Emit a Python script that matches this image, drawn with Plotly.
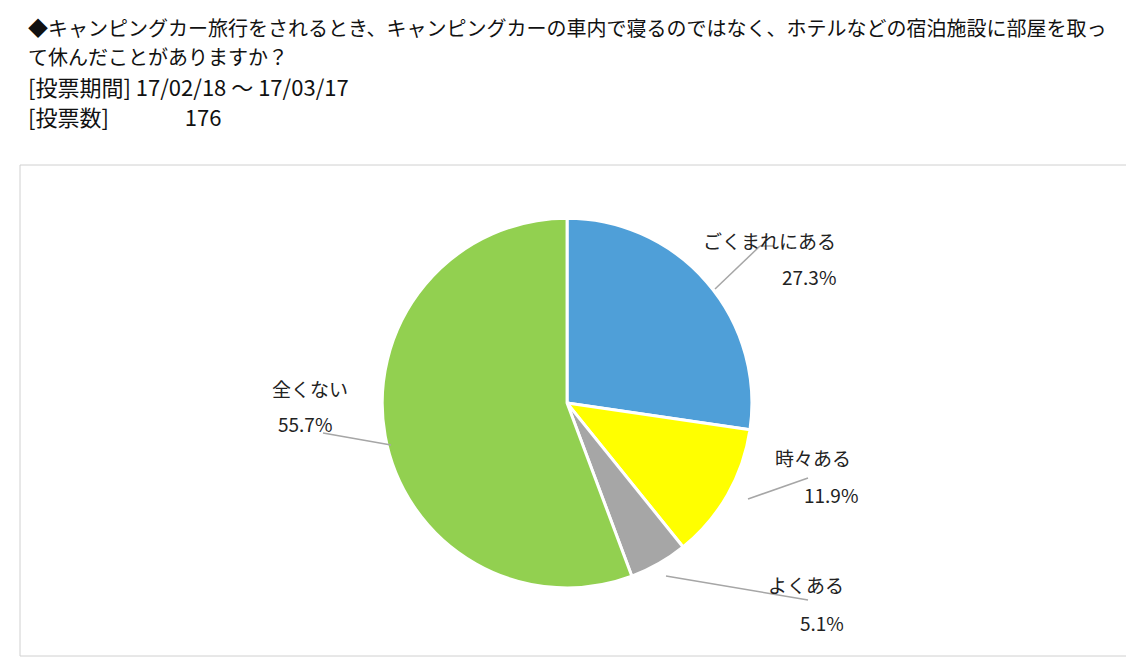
import plotly.graph_objects as go

W, H = 1134, 659

labels = ["ごくまれにある", "時々ある", "よくある", "全くない"]
values = [27.3, 11.9, 5.1, 55.7]
colors = ["#4f9fd8", "#ffff00", "#a6a6a6", "#92d050"]

# label placement (pixels): name pos, value pos, leader line points
label_pos = [
    ((830, 232), (830, 268), [(707, 281), (752, 238), (765, 238)]),
    ((845, 465), (852, 502), [(740, 491), (800, 470)]),
    ((838, 592), (838, 630), [(658, 568), (800, 592)]),
    ((262, 380), (268, 415), [(383, 437), (315, 425)]),
]


def px(x, y):
    return x / W, 1 - y / H


font = "Noto Sans CJK JP, Noto Sans, sans-serif"

fig = go.Figure(go.Pie(
    labels=labels,
    values=values,
    sort=False,
    direction="clockwise",
    rotation=0,
    marker=dict(colors=colors, line=dict(color="white", width=3)),
    textinfo="none",
    hoverinfo="label+percent",
    domain=dict(x=[0.330, 0.656], y=[0.120, 0.681]),
    showlegend=False,
))

annotations = []
shapes = []
for name, (npos, vpos, pts) in zip(labels, label_pos):
    i = labels.index(name)
    for txt, p in ((name, npos), (f"{values[i]:.1f}%", vpos)):
        x, y = px(*p)
        annotations.append(dict(x=x, y=y, xref="paper", yref="paper", text=txt,
                                showarrow=False, font=dict(size=19, color="#222")))
    for a, b in zip(pts[:-1], pts[1:]):
        x0, y0 = px(*a)
        x1, y1 = px(*b)
        shapes.append(dict(type="line", xref="paper", yref="paper", x0=x0, y0=y0,
                           x1=x1, y1=y1, line=dict(color="#a6a6a6", width=1.5)))

# frame around chart area
x0, y0 = px(12, 157)
x1, y1 = px(1122, 648)
shapes.append(dict(type="rect", xref="paper", yref="paper", x0=x0, y0=y0, x1=x1, y1=y1,
                   line=dict(color="#d0d0d0", width=1)))

title_lines = [
    ("◆キャンピングカー旅行をされるとき、キャンピングカーの車内で寝るのではなく、ホテルなどの宿泊施設に部屋を取っ", 20, 20),
    ("て休んだことがありますか？", 20, 48),
    ("[投票期間] 17/02/18 ～ 17/03/17", 22, 78),
    ("[投票数]　　　  176", 22, 108),
]
for txt, size, y in title_lines:
    x, yy = px(18, y)
    annotations.append(dict(x=x, y=yy, xref="paper", yref="paper", text=txt, xanchor="left",
                            yanchor="middle", showarrow=False, font=dict(size=size, color="#111")))

fig.update_layout(
    width=W, height=H,
    margin=dict(l=0, r=0, t=0, b=0),
    paper_bgcolor="white",
    font=dict(family=font),
    annotations=annotations,
    shapes=shapes,
)

fig.write_html("out.html")
